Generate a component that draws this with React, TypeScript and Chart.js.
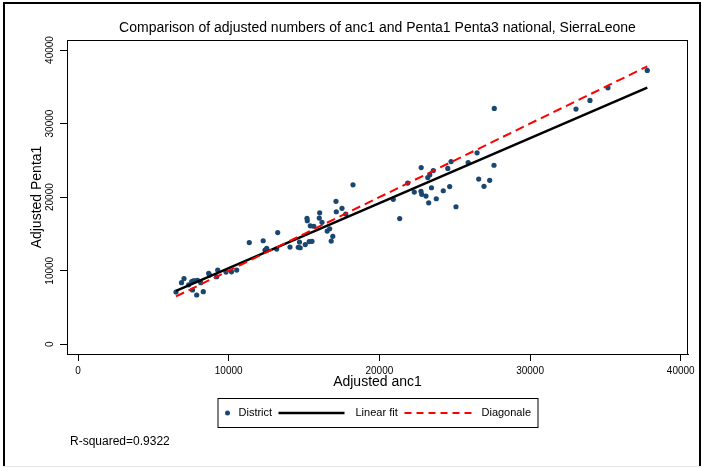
import { useEffect, useRef } from "react";
import { Chart, registerables } from "chart.js";

Chart.register(...registerables);

const TITLE = "Comparison of adjusted numbers of anc1 and Penta1 Penta3 national, SierraLeone";
const X_TITLE = "Adjusted anc1";
const Y_TITLE = "Adjusted Penta1";
const X_TICKS = [0, 10000, 20000, 30000, 40000];
const Y_TICKS = [0, 10000, 20000, 30000, 40000];
const LEGEND_LABELS = ["District", "Linear fit", "Diagonale"];
const R_SQUARED_LABEL = "R-squared=0.9322";

const ANC1 = [
  6503, 6868, 7034, 7346, 7545, 7651, 7764, 7930, 7598, 7877,
  8142, 8314, 8673, 8726, 9204, 9270, 9821, 10186, 10531, 11367,
  12289, 12409, 12522, 13185, 13252, 14068, 14618, 14745, 14698, 15083,
  15342, 15527, 15196, 15216, 15415, 15647, 16039, 16012, 16191, 16536,
  16702, 16908, 16802, 17120, 17140, 17518, 17770, 18248, 20922, 21347,
  21878, 22316, 22774, 22761, 22813, 23092, 23272, 23212, 23344, 23577,
  23457, 23776, 24240, 24539, 24758, 24665, 25083, 25892, 26483, 26589,
  26941, 27319, 27605, 27624, 33046, 33975, 35169, 37777,
];
const PENTA1 = [
  7106, 8370, 8940, 8084, 8533, 8641, 8641, 8696, 7378, 6698,
  8370, 7147, 9647, 9416, 9185, 10095, 9823, 9851, 10095, 13832,
  14076, 12812, 13043, 12948, 15190, 13220, 13193, 13125, 13899, 13560,
  13967, 13995, 17133, 16793, 16101, 16046, 17867, 17160, 16576, 15394,
  15707, 14674, 14035, 19429, 18016, 18478, 17704, 21671, 19701, 17092,
  21916, 20693, 24022, 20802, 20380, 20149, 19226, 22663, 23043, 23614,
  21277, 19783, 20870, 23899, 24837, 21440, 18696, 24701, 26019, 22459,
  21467, 22283, 24334, 32065, 31970, 33152, 34864, 37228,
];

const FONT = '"Liberation Sans", Arial, Helvetica, sans-serif';
const NAVY = "#1a476f";

function olsFit(xs: number[], ys: number[]) {
  const n = xs.length;
  let sx = 0, sy = 0;
  for (let i = 0; i < n; i++) { sx += xs[i]; sy += ys[i]; }
  const mx = sx / n, my = sy / n;
  let sxy = 0, sxx = 0;
  for (let i = 0; i < n; i++) { sxy += (xs[i] - mx) * (ys[i] - my); sxx += (xs[i] - mx) ** 2; }
  const b = sxy / sxx;
  return { a: my - b * mx, b };
}

export default function App() {
  const ref = useRef<HTMLCanvasElement | null>(null);

  useEffect(() => {
    document.body.style.margin = "0";
    const canvas = ref.current;
    if (!canvas) return;
    const xMin = Math.min(...ANC1);
    const xMax = Math.max(...ANC1);
    const { a, b } = olsFit(ANC1, PENTA1);
    const fitPts = [{ x: xMin, y: a + b * xMin }, { x: xMax, y: a + b * xMax }];
    const diagPts = [{ x: xMin, y: xMin }, { x: xMax, y: xMax }];

    const decor = {
      id: "stataDecor",
      beforeDraw(chart: any) {
        const ctx = chart.ctx;
        ctx.save();
        ctx.fillStyle = "#ffffff";
        ctx.fillRect(0, 0, chart.width, chart.height);
        ctx.restore();
      },
      afterDraw(chart: any) {
        const { ctx, chartArea: ca, scales } = chart;
        ctx.save();
        // plot frame
        ctx.strokeStyle = "#000";
        ctx.lineWidth = 1;
        ctx.strokeRect(ca.left + 0.5, ca.top + 0.5, ca.right - ca.left - 1, ca.bottom - ca.top);
        const cx = (ca.left + ca.right) / 2;
        // title
        ctx.fillStyle = "#000";
        ctx.font = `14px ${FONT}`;
        ctx.textAlign = "center";
        ctx.textBaseline = "middle";
        ctx.fillText(TITLE, cx, 28);
        // y tick labels (rotated)
        const ys = scales.y;
        ctx.font = `10px ${FONT}`;
        for (const t of ys.ticks) {
          const py = ys.getPixelForValue(t.value);
          ctx.save();
          ctx.translate(ca.left - 17, py);
          ctx.rotate(-Math.PI / 2);
          ctx.textAlign = "center";
          ctx.textBaseline = "middle";
          ctx.fillText(String(t.value), 0, 0);
          ctx.restore();
        }
        // legend box
        const lx = cx - 160, ly = 398, lw = 320, lh = 29;
        ctx.strokeStyle = "#000";
        ctx.lineWidth = 1;
        ctx.strokeRect(lx + 0.5, ly + 0.5, lw, lh);
        const my = ly + lh / 2 + 0.5;
        ctx.font = `11px ${FONT}`;
        ctx.textAlign = "left";
        ctx.textBaseline = "middle";
        ctx.fillStyle = NAVY;
        ctx.beginPath();
        ctx.arc(lx + 10, my, 2.5, 0, Math.PI * 2);
        ctx.fill();
        ctx.fillStyle = "#000";
        ctx.fillText(LEGEND_LABELS[0], lx + 21, my);
        ctx.lineWidth = 2.5;
        ctx.strokeStyle = "#000";
        ctx.beginPath();
        ctx.moveTo(lx + 61, my);
        ctx.lineTo(lx + 127, my);
        ctx.stroke();
        ctx.fillText(LEGEND_LABELS[1], lx + 138, my);
        ctx.lineWidth = 2;
        ctx.strokeStyle = "#ff0000";
        ctx.setLineDash([7, 5]);
        ctx.beginPath();
        ctx.moveTo(lx + 187, my);
        ctx.lineTo(lx + 254, my);
        ctx.stroke();
        ctx.setLineDash([]);
        ctx.fillText(LEGEND_LABELS[2], lx + 264, my);
        // R-squared note
        ctx.font = `12px ${FONT}`;
        ctx.fillText(R_SQUARED_LABEL, 70, 442);
        // outer border
        ctx.fillStyle = "#000";
        ctx.fillRect(3, 2, 2, chart.height - 4);
        ctx.fillRect(3, 2, chart.width - 5, 2);
        ctx.fillRect(chart.width - 3, 2, 2, chart.height - 4);
        ctx.fillStyle = "#e6e6e6";
        ctx.fillRect(3, chart.height - 2, chart.width - 5, 1);
        ctx.restore();
      },
    };

    const chart = new Chart(canvas, {
      type: "scatter",
      data: {
        datasets: [
          {
            label: LEGEND_LABELS[2],
            data: diagPts,
            showLine: true,
            borderColor: "#ff0000",
            borderWidth: 2,
            borderDash: [9, 5],
            pointRadius: 0,
            order: 1,
          },
          {
            label: LEGEND_LABELS[1],
            data: fitPts,
            showLine: true,
            borderColor: "#000000",
            borderWidth: 2.5,
            pointRadius: 0,
            order: 2,
          },
          {
            label: LEGEND_LABELS[0],
            data: ANC1.map((x, i) => ({ x, y: PENTA1[i] })),
            backgroundColor: NAVY,
            borderWidth: 0,
            pointRadius: 2.6,
            order: 3,
          },
        ],
      },
      options: {
        responsive: false,
        animation: false,
        events: [],
        layout: { padding: { top: 40, left: 0, right: 14, bottom: 77 } },
        plugins: { legend: { display: false }, title: { display: false }, tooltip: { enabled: false } },
        scales: {
          x: {
            type: "linear",
            min: -730,
            max: 40480,
            afterBuildTicks: (s: any) => { s.ticks = X_TICKS.map((v) => ({ value: v })); },
            afterFit: (s: any) => { s.height = 37; },
            grid: { drawOnChartArea: false, drawTicks: true, tickLength: 7, color: "#000", tickWidth: 1 },
            border: { display: true, color: "#000", width: 1 },
            ticks: {
              color: "#000",
              font: { family: FONT, size: 10 },
              padding: 4,
              maxRotation: 0,
              autoSkip: false,
              callback: (v: any) => String(v),
            },
            title: { display: true, text: X_TITLE, color: "#000", font: { family: FONT, size: 14 }, padding: 0 },
          },
          y: {
            type: "linear",
            min: -1318,
            max: 41360,
            afterBuildTicks: (s: any) => { s.ticks = Y_TICKS.map((v) => ({ value: v })); },
            afterFit: (s: any) => { s.width = 67; },
            grid: { drawOnChartArea: false, drawTicks: true, tickLength: 7, color: "#000", tickWidth: 1 },
            border: { display: true, color: "#000", width: 1 },
            ticks: { display: false },
            title: { display: true, text: Y_TITLE, color: "#000", font: { family: FONT, size: 14 }, padding: { top: 28.6, bottom: 0 } },
          },
        },
      },
      plugins: [decor],
    } as any);
    return () => chart.destroy();
  }, []);

  return (
    <div style={{ position: "fixed", left: 0, top: 0, width: 702, height: 468, background: "#fff" }}>
      <canvas ref={ref} width={702} height={468} style={{ width: 702, height: 468, display: "block" }} />
    </div>
  );
}
